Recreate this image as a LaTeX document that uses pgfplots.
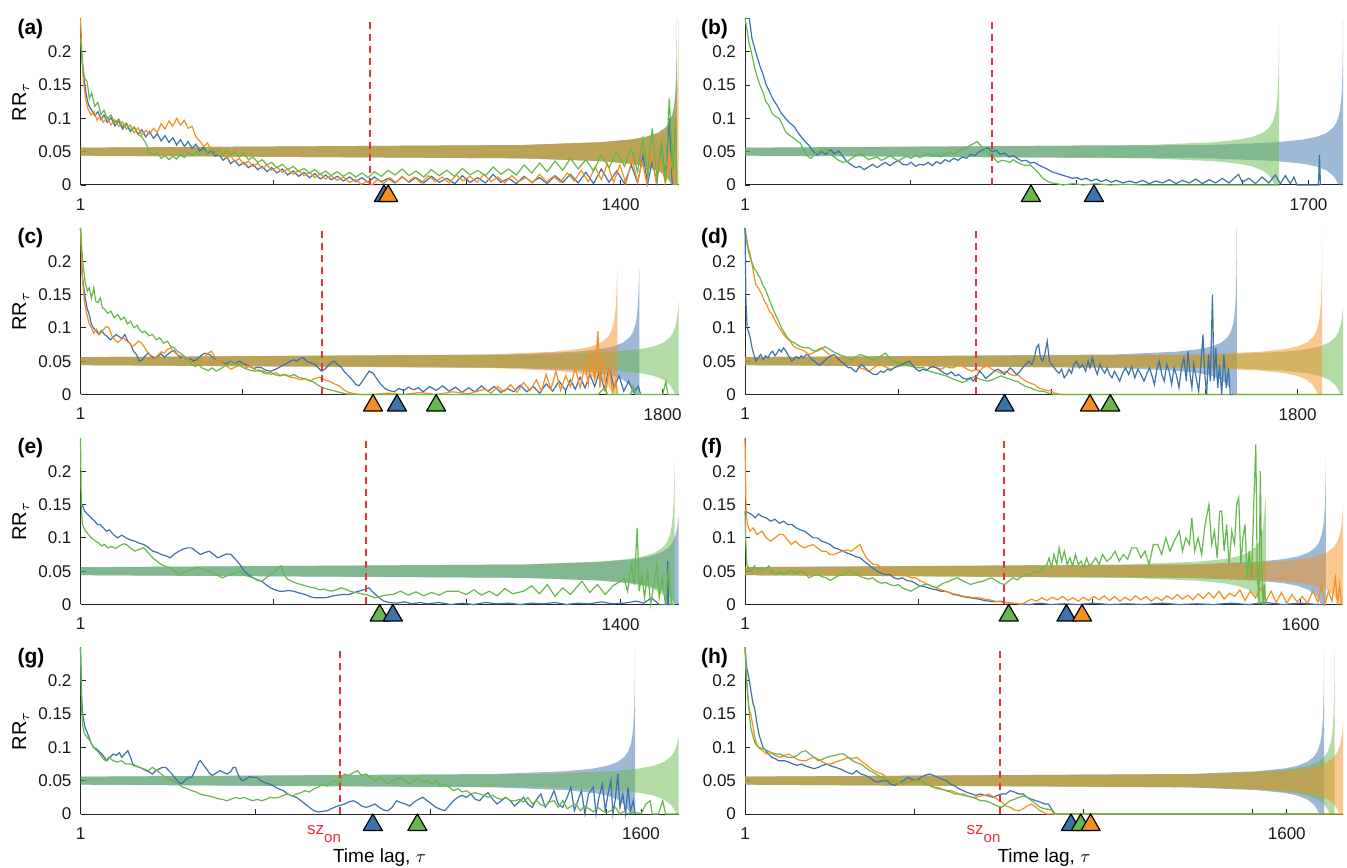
\documentclass[border=0pt]{standalone}
\usepackage{fontspec}
\setmainfont{Liberation Sans}
\usepackage{pgfplots}
\pgfplotsset{compat=1.18}
\definecolor{cb}{rgb}{0.24,0.45,0.67}
\definecolor{co}{rgb}{0.96,0.56,0.12}
\definecolor{cg}{rgb}{0.40,0.72,0.30}
\definecolor{cr}{rgb}{0.91,0.19,0.23}
\pgfplotsset{
  rr/.style={
    scale only axis, width=299pt, height=83.3pt, anchor=south west,
    xmin=1, ymin=0, ymax=0.25,
    axis x line*=bottom, axis y line*=left,
    axis line style={-, black!85, line width=0.5pt},
    ytick={0,0.05,0.1,0.15,0.2}, yticklabels={0,0.05,0.1,0.15,0.2},
    tick align=inside, major tick length=2.5pt,
    tick style={black!85, line width=0.4pt},
    every tick label/.append style={font=\fontsize{8.5}{10}\selectfont, text=black!90},
    xticklabel style={yshift=-3.3pt},
    yticklabel style={xshift=-1pt},
    clip=false,
    every axis y label/.style={at={(axis description cs:-0.1,0.5)}, rotate=90, anchor=center, font=\fontsize{10}{11}\selectfont},
    every axis x label/.style={at={(axis description cs:0.5,0)}, anchor=north, yshift=-14pt, font=\fontsize{9.5}{11}\selectfont},
  },
  lb/.style={cb, line width=0.6pt, mark=none},
  lo/.style={co, line width=0.6pt, mark=none},
  lg/.style={cg, line width=0.6pt, mark=none},
  bb/.style={draw=none, fill=cb, fill opacity=0.5, mark=none},
  bo/.style={draw=none, fill=co, fill opacity=0.5, mark=none},
  bg/.style={draw=none, fill=cg, fill opacity=0.5, mark=none},
  rl/.style={cr, line width=0.9pt, dash pattern=on 3.5pt off 2.5pt, mark=none},
  tri/.style={only marks, mark=triangle*, mark size=5.5pt, mark options={draw=black, fill=#1, line width=0.6pt, line join=round, solid}},
}
\newcommand{\plabel}[2]{\node[anchor=north west, inner sep=0pt, font=\bfseries\fontsize{10.5}{12}\selectfont] at (axis description cs:#1,1.0) {#2};}
\newcommand{\szon}[1]{\node[anchor=base east, inner sep=0pt, text=cr] at (axis cs:#1,0) [yshift=-10pt, xshift=0.5pt] {\fontsize{8.5}{10}\selectfont sz\raisebox{-4pt}{\fontsize{7.5}{9}\selectfont on}};}
\begin{document}
\begin{tikzpicture}
\useasboundingbox (0,0) rectangle (673.5pt,433.5pt);
% ---------------- (a)
\begin{axis}[rr, at={(40.25pt,341pt)}, xmax=1550, xtick={1,500,1000,1400}, xticklabels={1,,,1400}, ylabel={RR$_{\tau}$}]
\addplot[bb] coordinates {(1,.056)(1146,.06)(1346,.0641)(1426,.0682)(1466,.0722)(1496,.078)(1516,.0859)(1526,.0936)(1534,.1055)(1538,.1167)(1541,.1316)(1543,.15)(1544,.1655)(1545,.191)(1546,.25)(1546,0)(1532,0)(1526,.0064)(1516,.0141)(1496,.022)(1466,.0278)(1426,.0318)(1346,.0359)(1146,.04)(1,.044)} -- cycle;
\addplot[bg] coordinates {(1,.056)(1146,.06)(1346,.0641)(1426,.0682)(1466,.0722)(1496,.078)(1516,.0859)(1526,.0936)(1534,.1055)(1538,.1167)(1541,.1316)(1543,.15)(1544,.1655)(1545,.191)(1546,.25)(1546,0)(1532,0)(1526,.0064)(1516,.0141)(1496,.022)(1466,.0278)(1426,.0318)(1346,.0359)(1146,.04)(1,.044)} -- cycle;
\addplot[bo] coordinates {(1,.056)(1150,.06)(1350,.0641)(1430,.0682)(1470,.0722)(1500,.078)(1520,.0859)(1530,.0936)(1538,.1055)(1542,.1167)(1545,.1316)(1547,.15)(1548,.1655)(1549,.191)(1550,.25)(1550,0)(1536,0)(1530,.0064)(1520,.0141)(1500,.022)(1470,.0278)(1430,.0318)(1350,.0359)(1150,.04)(1,.044)} -- cycle;
\addplot[lb] coordinates {(1,.24)(5,.19)(10,.16)(16,.135)(22,.12)(30,.112)(38,.104)(46,.11)(54,.098)(62,.105)(70,.094)(80,.101)(90,.089)(100,.096)(110,.084)(120,.092)(130,.08)(140,.087)(150,.076)(160,.083)(170,.072)(180,.08)(190,.07)(200,.077)(210,.066)(220,.074)(230,.064)(240,.071)(250,.06)(260,.068)(270,.058)(280,.065)(290,.055)(300,.061)(310,.051)(320,.057)(330,.047)(340,.052)(350,.043)(360,.046)(370,.037)(380,.042)(390,.032)(400,.037)(412,.029)(424,.034)(436,.026)(448,.031)(460,.023)(472,.028)(484,.02)(496,.026)(510,.018)(524,.024)(538,.015)(552,.021)(566,.013)(580,.019)(594,.011)(608,.017)(622,.009)(636,.015)(650,.008)(666,.013)(682,.006)(698,.012)(714,.005)(730,.011)(746,.004)(762,.012)(780,.005)(798,.01)(816,.003)(834,.012)(852,.004)(870,.011)(890,.003)(910,.013)(930,.004)(950,.01)(970,.002)(990,.014)(1010,.004)(1030,.011)(1050,.003)(1070,.016)(1090,.004)(1110,.01)(1130,.002)(1150,.013)(1170,.004)(1190,.011)(1210,.002)(1230,.014)(1250,.004)(1270,.016)(1290,.003)(1310,.019)(1330,.002)(1350,.024)(1370,.004)(1390,.021)(1410,.002)(1428,.03)(1444,.003)(1458,.044)(1470,.002)(1482,.035)(1494,.003)(1506,.06)(1516,.005)(1526,.1)(1534,0)};
\addplot[lo] coordinates {(1,.25)(4,.2)(8,.16)(14,.13)(20,.115)(28,.105)(36,.11)(44,.097)(52,.104)(60,.094)(70,.102)(80,.09)(90,.098)(100,.088)(110,.095)(120,.084)(130,.09)(140,.078)(150,.086)(160,.075)(170,.082)(180,.077)(190,.085)(200,.079)(210,.092)(220,.084)(230,.096)(240,.088)(250,.1)(260,.09)(270,.097)(280,.085)(290,.088)(300,.072)(310,.066)(320,.058)(330,.063)(340,.052)(350,.056)(360,.045)(370,.049)(380,.04)(390,.044)(400,.035)(412,.04)(424,.031)(436,.036)(448,.028)(460,.033)(472,.025)(484,.03)(496,.022)(510,.027)(524,.019)(538,.024)(552,.016)(566,.022)(580,.014)(594,.019)(608,.011)(622,.017)(636,.009)(650,.014)(666,.007)(682,.012)(698,.004)(714,.008)(728,.001)(742,.005)(756,0)(770,.008)(786,.002)(802,.011)(818,.004)(834,.013)(850,.005)(866,.012)(884,.003)(902,.014)(920,.005)(938,.012)(956,.003)(974,.015)(992,.006)(1010,.013)(1028,.004)(1046,.016)(1064,.005)(1082,.012)(1100,.003)(1118,.014)(1136,.005)(1154,.011)(1172,.003)(1190,.016)(1208,.005)(1226,.013)(1244,.004)(1262,.018)(1280,.006)(1298,.022)(1316,.005)(1334,.027)(1350,.008)(1366,.032)(1382,.004)(1398,.03)(1414,.002)(1430,.04)(1444,.004)(1456,.035)(1468,.002)(1480,.05)(1492,.004)(1504,.038)(1516,.002)(1528,.045)(1540,0)};
\addplot[lg] coordinates {(1,.22)(6,.18)(12,.16)(18,.155)(24,.13)(30,.138)(38,.118)(46,.124)(54,.106)(62,.112)(70,.099)(80,.105)(90,.093)(100,.099)(110,.088)(120,.093)(130,.082)(140,.087)(150,.076)(160,.072)(170,.063)(180,.05)(190,.045)(200,.048)(210,.04)(220,.044)(230,.038)(240,.043)(250,.039)(260,.046)(270,.041)(280,.048)(290,.044)(300,.05)(310,.046)(320,.053)(330,.048)(340,.055)(350,.049)(360,.054)(370,.046)(380,.052)(390,.045)(400,.05)(412,.042)(424,.047)(436,.038)(448,.042)(460,.034)(472,.038)(484,.03)(496,.034)(510,.026)(524,.031)(538,.023)(552,.028)(566,.02)(580,.025)(594,.018)(608,.023)(622,.016)(636,.021)(650,.014)(666,.02)(682,.013)(698,.019)(714,.012)(730,.018)(746,.011)(762,.02)(780,.013)(798,.022)(816,.015)(834,.024)(852,.014)(870,.021)(890,.012)(910,.023)(930,.014)(950,.022)(970,.013)(990,.025)(1010,.015)(1030,.022)(1050,.014)(1070,.027)(1090,.016)(1110,.024)(1130,.015)(1150,.03)(1170,.018)(1190,.033)(1210,.02)(1230,.036)(1250,.022)(1270,.04)(1290,.024)(1310,.038)(1330,.021)(1350,.045)(1370,.026)(1390,.05)(1410,.028)(1428,.055)(1444,.02)(1458,.07)(1470,.015)(1482,.085)(1494,.01)(1506,.06)(1516,.005)(1526,.13)(1536,.02)(1542,.1)(1546,0)};
\addplot[rl] coordinates {(751,0)(751,0.25)};
\addplot[tri=cb] coordinates {(787,-0.0165)};
\addplot[tri=co] coordinates {(798,-0.0165)};
\plabel{-0.106}{(a)}
\end{axis}
% ---------------- (b)
\begin{axis}[rr, at={(372.5pt,341pt)}, xmax=1804, xtick={1,500,1000,1500,1700}, xticklabels={1,,,,1700}]
\addplot[bb] coordinates {(1,.056)(1404,.06)(1604,.0641)(1684,.0682)(1724,.0722)(1754,.078)(1774,.0859)(1784,.0936)(1792,.1055)(1796,.1167)(1799,.1316)(1801,.15)(1802,.1655)(1803,.191)(1804,.25)(1804,0)(1790,0)(1784,.0064)(1774,.0141)(1754,.022)(1724,.0278)(1684,.0318)(1604,.0359)(1404,.04)(1,.044)} -- cycle;
\addplot[bg] coordinates {(1,.056)(1211,.06)(1411,.0641)(1491,.0682)(1531,.0722)(1561,.078)(1581,.0859)(1591,.0936)(1599,.1055)(1603,.1167)(1606,.1316)(1608,.15)(1609,.1655)(1610,.191)(1611,.24)(1611,0)(1597,0)(1591,.0064)(1581,.0141)(1561,.022)(1531,.0278)(1491,.0318)(1411,.0359)(1211,.04)(1,.044)} -- cycle;
\addplot[lb] coordinates {(1,.25)(14,.25)(22,.22)(33,.2)(45,.18)(56,.165)(65,.15)(75,.14)(86,.128)(97,.12)(110,.108)(123,.1)(136,.093)(149,.088)(160,.079)(174,.07)(184,.064)(193,.06)(206,.051)(219,.045)(232,.05)(245,.046)(258,.053)(271,.047)(284,.051)(296,.043)(309,.035)(322,.03)(335,.026)(347,.028)(360,.023)(373,.027)(386,.031)(399,.026)(411,.03)(424,.034)(437,.029)(450,.033)(463,.037)(476,.031)(489,.03)(502,.034)(515,.028)(528,.031)(540,.03)(553,.034)(566,.029)(578,.035)(591,.032)(604,.038)(617,.035)(630,.04)(643,.037)(656,.042)(669,.04)(681,.046)(694,.044)(707,.05)(720,.053)(733,.056)(746,.05)(758,.052)(771,.046)(784,.048)(797,.042)(810,.044)(822,.04)(835,.036)(848,.037)(861,.033)(874,.034)(886,.03)(899,.027)(912,.024)(925,.02)(938,.018)(950,.016)(963,.014)(976,.012)(989,.01)(1002,.011)(1015,.008)(1030,.01)(1045,.006)(1060,.009)(1075,.005)(1090,.008)(1105,.004)(1120,.007)(1140,.003)(1160,.006)(1180,.003)(1200,.007)(1220,.002)(1240,.006)(1260,.003)(1280,.008)(1300,.002)(1320,.007)(1340,.003)(1360,.009)(1380,.002)(1400,.008)(1420,.003)(1440,.01)(1460,.003)(1480,.012)(1489,.016)(1500,.004)(1520,.01)(1540,.002)(1560,.012)(1580,.003)(1600,.015)(1615,.002)(1630,.014)(1645,.002)(1656,.012)(1665,0)(1730,0)(1733,.045)(1736,0)};
\addplot[lg] coordinates {(1,.25)(8,.23)(14,.21)(20,.2)(28,.18)(36,.165)(46,.15)(56,.138)(64,.125)(72,.12)(82,.108)(92,.103)(104,.1)(114,.09)(123,.08)(134,.075)(149,.07)(160,.065)(168,.063)(175,.055)(181,.05)(190,.043)(200,.04)(210,.046)(220,.05)(232,.052)(245,.055)(258,.047)(270,.042)(283,.037)(296,.034)(309,.035)(322,.04)(335,.044)(348,.047)(360,.043)(373,.038)(386,.04)(399,.042)(412,.037)(425,.04)(438,.044)(450,.04)(463,.036)(476,.04)(489,.043)(502,.04)(515,.045)(528,.041)(540,.044)(553,.047)(566,.043)(578,.046)(591,.042)(604,.047)(617,.05)(630,.046)(643,.05)(656,.054)(669,.056)(681,.06)(690,.062)(700,.065)(710,.06)(720,.056)(730,.05)(740,.045)(752,.04)(763,.034)(775,.037)(787,.036)(799,.034)(810,.038)(822,.034)(835,.031)(848,.029)(861,.03)(874,.024)(886,.018)(899,.01)(912,.006)(925,.003)(940,.002)(960,0)(990,.002)(1020,0)(1060,.002)(1100,0)(1150,.001)(1200,0)(1611,0)};
\addplot[rl] coordinates {(745,0)(745,0.25)};
\addplot[tri=cg] coordinates {(863,-0.0165)};
\addplot[tri=cb] coordinates {(1053,-0.0165)};
\plabel{-0.074}{(b)}
\end{axis}
% ---------------- (c)
\begin{axis}[rr, at={(40.25pt,236.25pt)}, xmax=1849, xtick={1,500,1000,1500,1800}, xticklabels={1,,,,1800}, ylabel={RR$_{\tau}$}]
\addplot[bb] coordinates {(1,.056)(1328,.06)(1528,.0641)(1608,.0682)(1648,.0722)(1678,.078)(1698,.0859)(1708,.0936)(1716,.1055)(1720,.1167)(1723,.1316)(1725,.15)(1726,.1655)(1728,.19)(1728,0)(1714,0)(1708,.0064)(1698,.0141)(1678,.022)(1648,.0278)(1608,.0318)(1528,.0359)(1328,.04)(1,.044)} -- cycle;
\addplot[bg] coordinates {(1,.056)(1453,.06)(1653,.0641)(1733,.0682)(1773,.0722)(1803,.078)(1823,.0859)(1833,.0936)(1841,.1055)(1845,.1167)(1848,.1316)(1849,.1394)(1849,0)(1839,0)(1833,.0064)(1823,.0141)(1803,.022)(1773,.0278)(1733,.0318)(1653,.0359)(1453,.04)(1,.044)} -- cycle;
\addplot[bo] coordinates {(1,.056)(1260,.06)(1460,.0641)(1540,.0682)(1580,.0722)(1610,.078)(1630,.0859)(1640,.0936)(1648,.1055)(1652,.1167)(1655,.1316)(1657,.15)(1658,.1655)(1660,.19)(1660,0)(1646,0)(1640,.0064)(1630,.0141)(1610,.022)(1580,.0278)(1540,.0318)(1460,.0359)(1260,.04)(1,.044)} -- cycle;
\addplot[lb] coordinates {(1,.25)(6,.18)(14,.15)(21,.13)(28,.12)(35,.105)(41,.1)(50,.095)(58,.09)(66,.096)(75,.09)(84,.087)(93,.082)(102,.086)(111,.09)(120,.087)(129,.084)(138,.09)(147,.08)(156,.075)(165,.065)(174,.06)(183,.05)(192,.052)(201,.058)(210,.062)(219,.058)(230,.054)(240,.057)(250,.061)(260,.056)(270,.06)(280,.064)(291,.066)(300,.06)(310,.055)(320,.058)(330,.052)(340,.054)(350,.05)(359,.052)(370,.057)(385,.062)(399,.06)(410,.056)(420,.053)(435,.049)(450,.046)(465,.05)(480,.047)(493,.05)(505,.046)(520,.043)(535,.039)(550,.041)(561,.04)(575,.036)(590,.035)(605,.038)(620,.042)(635,.046)(650,.05)(660,.052)(669,.05)(680,.054)(690,.055)(700,.05)(715,.047)(726,.045)(736,.04)(746,.035)(756,.038)(766,.043)(777,.048)(785,.05)(795,.045)(805,.042)(815,.035)(825,.03)(835,.025)(844,.02)(852,.015)(862,.013)(872,.02)(882,.027)(893,.035)(905,.032)(915,.025)(925,.018)(935,.012)(945,.008)(955,.006)(970,.004)(985,.009)(1000,.006)(1015,.011)(1030,.007)(1045,.01)(1060,.004)(1080,.012)(1100,.006)(1120,.013)(1140,.005)(1160,.011)(1180,.003)(1200,.01)(1220,.004)(1240,.013)(1260,.005)(1280,.012)(1300,.003)(1320,.009)(1340,.004)(1360,.014)(1380,.004)(1400,.012)(1420,.002)(1440,.016)(1460,.005)(1480,.02)(1500,.006)(1515,.022)(1530,.008)(1545,.026)(1560,.01)(1575,.03)(1590,.012)(1605,.035)(1620,.008)(1635,.04)(1650,.01)(1665,.028)(1680,.005)(1695,.02)(1710,.003)(1725,.012)(1732,0)};
\addplot[lo] coordinates {(1,.25)(6,.18)(13,.14)(21,.12)(28,.105)(35,.1)(42,.092)(50,.098)(60,.09)(70,.096)(80,.102)(89,.1)(98,.088)(107,.082)(116,.078)(125,.082)(134,.085)(143,.08)(152,.078)(161,.072)(170,.075)(179,.08)(188,.078)(197,.072)(206,.065)(215,.06)(224,.05)(233,.055)(242,.06)(251,.064)(260,.062)(270,.068)(280,.07)(290,.064)(300,.06)(310,.058)(320,.056)(330,.054)(340,.05)(350,.047)(360,.045)(372,.048)(384,.055)(394,.062)(406,.065)(418,.055)(430,.05)(442,.046)(454,.042)(466,.038)(478,.041)(490,.043)(502,.045)(514,.04)(526,.043)(538,.038)(550,.035)(561,.036)(575,.033)(590,.03)(605,.033)(620,.028)(635,.03)(650,.026)(665,.025)(680,.022)(695,.024)(710,.02)(725,.024)(740,.026)(755,.022)(770,.02)(785,.016)(800,.013)(815,.007)(830,.003)(850,.001)(871,0)(900,0)(950,.002)(1000,0)(1050,.003)(1100,0)(1150,.004)(1200,.001)(1250,.008)(1270,.002)(1290,.012)(1310,.004)(1330,.015)(1350,.003)(1370,.018)(1390,.006)(1410,.022)(1425,.005)(1440,.03)(1455,.008)(1470,.035)(1485,.006)(1500,.028)(1515,.012)(1530,.04)(1545,.01)(1560,.045)(1570,.015)(1580,.06)(1590,.02)(1600,.095)(1606,.01)(1615,.055)(1625,.005)(1635,.04)(1645,.003)(1655,.02)(1660,0)};
\addplot[lg] coordinates {(1,.25)(5,.22)(8,.2)(15,.17)(22,.155)(28,.16)(35,.145)(42,.16)(48,.14)(55,.138)(62,.145)(69,.13)(75,.128)(85,.122)(95,.125)(105,.115)(116,.12)(126,.112)(136,.116)(146,.106)(156,.11)(166,.1)(176,.104)(183,.097)(192,.093)(201,.095)(212,.088)(224,.09)(235,.082)(246,.085)(258,.077)(270,.08)(280,.072)(291,.07)(300,.065)(310,.062)(320,.058)(332,.052)(345,.045)(356,.042)(366,.045)(376,.04)(386,.038)(396,.036)(408,.04)(420,.035)(432,.038)(444,.042)(456,.045)(468,.05)(480,.048)(492,.044)(504,.04)(516,.038)(528,.036)(540,.035)(552,.037)(564,.033)(576,.031)(588,.034)(600,.03)(615,.028)(630,.03)(645,.027)(660,.03)(675,.026)(690,.024)(705,.022)(715,.02)(723,.018)(735,.014)(750,.01)(765,.008)(780,.006)(795,.004)(804,.003)(820,.001)(850,0)(1600,0)(1620,.01)(1630,0)(1700,0)(1710,.012)(1716,0)(1800,0)(1810,.02)(1816,0)(1849,0)};
\addplot[rl] coordinates {(747,0)(747,0.25)};
\addplot[tri=co] coordinates {(905,-0.0165)};
\addplot[tri=cb] coordinates {(979,-0.0165)};
\addplot[tri=cg] coordinates {(1100,-0.0165)};
\plabel{-0.106}{(c)}
\end{axis}
% ---------------- (d)
\begin{axis}[rr, at={(372.5pt,236.25pt)}, xmax=1948, xtick={1,500,1000,1500,1800}, xticklabels={1,,,,1800}]
\addplot[bb] coordinates {(1,.056)(1202,.06)(1402,.0641)(1482,.0682)(1522,.0722)(1552,.078)(1572,.0859)(1582,.0936)(1590,.1055)(1594,.1167)(1597,.1316)(1599,.15)(1600,.1655)(1601,.191)(1602,.25)(1602,0)(1588,0)(1582,.0064)(1572,.0141)(1552,.022)(1522,.0278)(1482,.0318)(1402,.0359)(1202,.04)(1,.044)} -- cycle;
\addplot[bg] coordinates {(1,.056)(1553,.06)(1753,.0641)(1833,.0682)(1873,.0722)(1903,.078)(1923,.0859)(1933,.0936)(1941,.1055)(1945,.1167)(1948,.1316)(1948,0)(1939,0)(1933,.0064)(1923,.0141)(1903,.022)(1873,.0278)(1833,.0318)(1753,.0359)(1553,.04)(1,.044)} -- cycle;
\addplot[bo] coordinates {(1,.056)(1480,.06)(1680,.0641)(1760,.0682)(1800,.0722)(1830,.078)(1850,.0859)(1860,.0936)(1868,.1055)(1872,.1167)(1875,.1316)(1877,.15)(1878,.1655)(1879,.191)(1880,.25)(1880,0)(1866,0)(1860,.0064)(1850,.0141)(1830,.022)(1800,.0278)(1760,.0318)(1680,.0359)(1480,.04)(1,.044)} -- cycle;
\addplot[lo] coordinates {(1,.25)(6,.235)(12,.22)(18,.21)(22,.2)(28,.185)(36,.165)(44,.16)(50,.155)(56,.15)(64,.14)(72,.135)(80,.125)(90,.12)(100,.11)(112,.1)(124,.092)(136,.085)(148,.08)(160,.072)(167,.07)(180,.068)(195,.065)(210,.06)(225,.063)(240,.068)(250,.07)(262,.065)(275,.06)(290,.055)(305,.05)(320,.054)(335,.056)(350,.052)(362,.045)(375,.04)(390,.038)(405,.035)(420,.04)(435,.045)(450,.043)(465,.04)(478,.038)(486,.04)(500,.044)(515,.05)(528,.055)(540,.05)(555,.047)(569,.045)(582,.05)(595,.046)(610,.042)(625,.04)(640,.038)(655,.042)(670,.04)(680,.04)(695,.045)(710,.042)(725,.038)(740,.035)(755,.038)(763,.035)(775,.04)(790,.043)(805,.038)(820,.035)(835,.032)(850,.035)(865,.03)(880,.028)(888,.03)(900,.025)(915,.02)(930,.017)(943,.015)(956,.01)(970,.008)(985,.006)(999,.005)(1010,.002)(1030,0)(1879,0)};
\addplot[lg] coordinates {(1,.25)(6,.23)(12,.215)(18,.205)(22,.2)(30,.19)(38,.185)(43,.18)(50,.175)(58,.165)(65,.16)(74,.15)(82,.14)(91,.13)(100,.12)(110,.11)(120,.1)(130,.092)(140,.085)(150,.08)(160,.078)(170,.075)(180,.072)(195,.07)(209,.07)(222,.066)(235,.065)(248,.068)(262,.072)(275,.068)(290,.064)(306,.06)(320,.058)(334,.055)(347,.052)(360,.056)(375,.06)(390,.058)(404,.055)(418,.052)(431,.055)(445,.058)(458,.062)(470,.056)(485,.05)(500,.048)(515,.046)(530,.044)(545,.042)(560,.04)(583,.04)(595,.036)(610,.034)(625,.032)(640,.03)(655,.028)(670,.025)(685,.022)(698,.02)(708,.018)(720,.02)(735,.024)(750,.027)(765,.023)(780,.021)(791,.02)(805,.022)(820,.025)(835,.028)(850,.025)(865,.023)(880,.02)(888,.02)(900,.016)(915,.012)(930,.01)(945,.007)(960,.005)(971,.005)(990,.002)(1010,0)(1948,0)};
\addplot[lb] coordinates {(1,.25)(4,.14)(8,.1)(12,.095)(18,.085)(24,.07)(30,.06)(36,.05)(44,.055)(52,.06)(60,.052)(68,.058)(76,.055)(84,.062)(91,.065)(98,.058)(105,.062)(112,.068)(119,.064)(126,.07)(133,.066)(140,.06)(147,.055)(153,.05)(160,.053)(168,.057)(176,.054)(184,.058)(192,.055)(200,.06)(209,.058)(218,.053)(227,.05)(236,.046)(245,.044)(254,.048)(263,.052)(272,.056)(282,.058)(292,.06)(302,.055)(312,.05)(322,.047)(332,.042)(340,.04)(347,.04)(355,.036)(363,.034)(371,.04)(380,.045)(390,.041)(400,.036)(410,.033)(420,.03)(431,.03)(442,.035)(453,.033)(464,.038)(475,.036)(486,.04)(497,.042)(508,.044)(514,.045)(525,.048)(536,.05)(547,.044)(558,.038)(569,.035)(580,.038)(591,.036)(602,.04)(613,.042)(625,.04)(637,.036)(649,.032)(661,.03)(673,.034)(685,.028)(697,.03)(709,.025)(721,.023)(735,.025)(745,.02)(755,.028)(765,.035)(775,.03)(785,.024)(795,.028)(805,.032)(815,.036)(825,.038)(835,.035)(845,.03)(855,.035)(865,.04)(875,.035)(885,.03)(895,.034)(905,.04)(915,.045)(925,.05)(935,.045)(943,.055)(950,.07)(957,.075)(963,.055)(970,.05)(977,.06)(985,.08)(992,.05)(1000,.045)(1008,.04)(1016,.035)(1024,.032)(1032,.038)(1040,.025)(1048,.03)(1056,.038)(1064,.032)(1072,.045)(1080,.05)(1090,.04)(1100,.045)(1110,.035)(1118,.05)(1124,.04)(1132,.055)(1140,.04)(1148,.03)(1156,.045)(1164,.038)(1172,.032)(1180,.04)(1188,.03)(1196,.025)(1204,.035)(1212,.028)(1221,.02)(1230,.032)(1240,.04)(1250,.03)(1260,.042)(1270,.025)(1280,.038)(1290,.03)(1300,.02)(1310,.032)(1318,.04)(1326,.028)(1334,.015)(1342,.038)(1350,.05)(1358,.03)(1366,.02)(1374,.045)(1382,.035)(1390,.015)(1398,.04)(1406,.028)(1414,.01)(1422,.04)(1430,.055)(1438,.02)(1443,.065)(1450,.03)(1456,.01)(1462,.045)(1470,.025)(1478,.005)(1486,.05)(1492,.09)(1498,.03)(1504,0)(1510,.06)(1516,.02)(1523,.15)(1528,.02)(1534,.07)(1540,.01)(1546,.045)(1553,0)(1560,.06)(1568,.01)(1575,.04)(1581,0)(1590,0)};
\addplot[rl] coordinates {(752,0)(752,0.25)};
\addplot[tri=cb] coordinates {(846,-0.0165)};
\addplot[tri=co] coordinates {(1124,-0.0165)};
\addplot[tri=cg] coordinates {(1190,-0.0165)};
\plabel{-0.074}{(d)}
\end{axis}
% ---------------- (e)
\begin{axis}[rr, at={(40.25pt,131.25pt)}, xmax=1550, xtick={1,500,1000,1400}, xticklabels={1,,,1400}, ylabel={RR$_{\tau}$}]
\addplot[bb] coordinates {(1,.056)(1155,.06)(1355,.0641)(1435,.0682)(1475,.0722)(1505,.078)(1525,.0859)(1535,.0936)(1543,.1055)(1547,.1167)(1550,.1316)(1550,0)(1541,0)(1535,.0064)(1525,.0141)(1505,.022)(1475,.0278)(1435,.0318)(1355,.0359)(1155,.04)(1,.044)} -- cycle;
\addplot[bg] coordinates {(1,.056)(1140,.06)(1340,.0641)(1420,.0682)(1460,.0722)(1490,.078)(1510,.0859)(1520,.0936)(1528,.1055)(1532,.1167)(1535,.1316)(1537,.15)(1538,.1655)(1539,.191)(1540,.22)(1540,0)(1526,0)(1520,.0064)(1510,.0141)(1490,.022)(1460,.0278)(1420,.0318)(1340,.0359)(1140,.04)(1,.044)} -- cycle;
\addplot[lb] coordinates {(1,.15)(5,.15)(12,.14)(20,.135)(29,.13)(38,.125)(45,.12)(52,.12)(60,.115)(68,.11)(76,.112)(86,.105)(97,.1)(108,.104)(119,.1)(130,.097)(142,.095)(153,.092)(165,.09)(176,.086)(188,.08)(200,.078)(210,.075)(222,.073)(233,.07)(245,.076)(256,.08)(267,.083)(278,.085)(289,.085)(300,.08)(312,.075)(323,.078)(335,.08)(346,.075)(357,.07)(368,.073)(380,.076)(391,.075)(402,.068)(414,.06)(425,.05)(436,.045)(448,.04)(459,.037)(470,.035)(481,.03)(493,.025)(505,.022)(516,.02)(527,.02)(540,.021)(552,.02)(564,.018)(576,.016)(583,.015)(595,.012)(607,.01)(619,.01)(631,.01)(643,.011)(655,.013)(667,.014)(679,.015)(691,.015)(697,.015)(710,.018)(722,.02)(734,.022)(748,.025)(756,.02)(765,.015)(775,.01)(787,.005)(800,.003)(820,.002)(840,.004)(860,.001)(880,.003)(900,.001)(930,.003)(960,0)(990,.002)(1020,0)(1050,.003)(1080,.001)(1110,.002)(1140,0)(1170,.002)(1200,.001)(1230,.003)(1260,0)(1290,.002)(1320,.001)(1350,.004)(1380,.001)(1410,.002)(1440,.005)(1460,.002)(1480,.01)(1500,0)(1520,0)(1522,.065)(1524,0)(1540,0)};
\addplot[lg] coordinates {(1,.25)(3,.15)(6,.12)(14,.11)(22,.105)(29,.1)(38,.096)(48,.092)(56,.088)(63,.09)(72,.085)(82,.087)(92,.084)(102,.088)(112,.091)(120,.09)(130,.085)(142,.08)(153,.083)(165,.085)(176,.078)(188,.07)(199,.065)(210,.06)(222,.057)(233,.055)(245,.05)(256,.045)(267,.048)(278,.05)(289,.053)(300,.055)(312,.055)(323,.052)(335,.05)(346,.047)(358,.043)(369,.04)(380,.043)(391,.045)(403,.048)(414,.05)(425,.045)(437,.042)(448,.04)(460,.036)(471,.035)(482,.04)(493,.045)(505,.05)(514,.055)(521,.058)(528,.045)(537,.038)(548,.035)(560,.032)(572,.03)(584,.028)(596,.026)(608,.025)(620,.022)(632,.023)(643,.021)(651,.02)(663,.022)(675,.025)(687,.023)(699,.02)(711,.018)(723,.017)(735,.015)(742,.015)(754,.012)(765,.01)(777,.012)(790,.014)(810,.015)(830,.02)(850,.014)(870,.019)(890,.013)(910,.018)(930,.014)(950,.02)(979,.02)(1000,.015)(1020,.022)(1040,.014)(1060,.02)(1080,.013)(1100,.024)(1120,.016)(1149,.02)(1170,.028)(1190,.016)(1210,.03)(1230,.012)(1250,.025)(1270,.015)(1285,.025)(1300,.035)(1320,.018)(1340,.03)(1360,.015)(1380,.028)(1400,.035)(1409,.04)(1418,.02)(1428,.06)(1435,.03)(1443,.115)(1448,.02)(1455,.045)(1462,.01)(1470,.05)(1478,0)(1486,.03)(1494,.06)(1500,.01)(1508,.04)(1516,0)(1524,.055)(1532,0)(1540,0)};
\addplot[rl] coordinates {(740,0)(740,0.25)};
\addplot[tri=cg] coordinates {(776,-0.0165)};
\addplot[tri=cb] coordinates {(810,-0.0165)};
\plabel{-0.106}{(e)}
\end{axis}
% ---------------- (f)
\begin{axis}[rr, at={(372.5pt,131.25pt)}, xmax=1722, xtick={1,500,1000,1500,1600}, xticklabels={1,,,,1600}]
\addplot[bb] coordinates {(1,.056)(1273,.06)(1473,.0641)(1553,.0682)(1593,.0722)(1623,.078)(1643,.0859)(1653,.0936)(1661,.1055)(1665,.1167)(1668,.1316)(1670,.15)(1671,.1655)(1672,.191)(1673,.22)(1673,0)(1659,0)(1653,.0064)(1643,.0141)(1623,.022)(1593,.0278)(1553,.0318)(1473,.0359)(1273,.04)(1,.044)} -- cycle;
\addplot[bg] coordinates {(1,.056)(1100,.06)(1300,.0641)(1380,.0682)(1420,.0722)(1450,.078)(1470,.0859)(1480,.0936)(1488,.1055)(1492,.1167)(1495,.1316)(1497,.15)(1500,.16)(1500,0)(1486,0)(1480,.0064)(1470,.0141)(1450,.022)(1420,.0278)(1380,.0318)(1300,.0359)(1100,.04)(1,.044)} -- cycle;
\addplot[bo] coordinates {(1,.056)(1325,.06)(1525,.0641)(1605,.0682)(1645,.0722)(1675,.078)(1695,.0859)(1705,.0936)(1713,.1055)(1717,.1167)(1720,.1316)(1722,.15)(1722,0)(1711,0)(1705,.0064)(1695,.0141)(1675,.022)(1645,.0278)(1605,.0318)(1525,.0359)(1325,.04)(1,.044)} -- cycle;
\addplot[lb] coordinates {(1,.14)(10,.138)(20,.135)(30,.13)(40,.136)(50,.132)(62,.13)(75,.125)(87,.128)(100,.122)(112,.125)(124,.12)(136,.12)(148,.115)(160,.112)(172,.11)(185,.105)(197,.1)(209,.1)(222,.095)(234,.093)(246,.09)(258,.085)(270,.083)(283,.08)(295,.077)(307,.075)(319,.072)(332,.07)(344,.065)(356,.06)(368,.055)(381,.05)(393,.047)(405,.045)(418,.045)(430,.04)(442,.038)(454,.04)(467,.036)(479,.035)(491,.032)(503,.028)(516,.027)(528,.025)(540,.023)(552,.022)(565,.02)(577,.02)(589,.018)(601,.015)(614,.014)(626,.012)(638,.011)(650,.01)(662,.009)(675,.008)(690,.006)(705,.005)(720,.004)(735,.005)(750,.003)(765,.002)(790,.001)(820,0)(850,.002)(880,0)(920,.001)(960,0)(1000,.002)(1050,0)(1100,.001)(1150,0)(1200,.002)(1250,0)(1300,.001)(1350,0)(1400,.002)(1450,0)(1500,.003)(1550,0)(1600,.002)(1650,0)(1673,0)};
\addplot[lo] coordinates {(1,.25)(4,.14)(8,.12)(15,.11)(25,.115)(35,.105)(50,.11)(62,.1)(75,.095)(87,.1)(100,.105)(111,.105)(122,.098)(134,.09)(146,.095)(160,.088)(172,.085)(185,.088)(197,.09)(209,.085)(222,.08)(234,.08)(246,.075)(258,.075)(270,.078)(283,.08)(295,.082)(307,.08)(319,.085)(332,.09)(340,.08)(350,.07)(360,.065)(370,.06)(381,.06)(393,.055)(405,.052)(418,.05)(430,.047)(442,.045)(454,.046)(467,.043)(479,.04)(491,.04)(503,.036)(516,.033)(528,.03)(540,.027)(552,.025)(565,.022)(577,.02)(589,.018)(601,.016)(614,.015)(626,.013)(638,.012)(650,.011)(662,.01)(675,.01)(690,.008)(705,.007)(720,.005)(735,.004)(750,.003)(765,.002)(780,.002)(797,0)(810,.004)(825,.008)(840,.005)(855,.01)(870,.006)(885,.011)(900,.007)(915,.012)(930,.006)(945,.01)(960,.005)(975,.011)(990,.006)(1005,.012)(1020,.007)(1035,.013)(1050,.006)(1065,.012)(1080,.005)(1095,.011)(1110,.006)(1125,.013)(1140,.007)(1155,.012)(1170,.005)(1185,.011)(1200,.006)(1215,.013)(1230,.008)(1245,.015)(1260,.008)(1275,.014)(1290,.007)(1305,.016)(1320,.009)(1335,.018)(1350,.01)(1365,.02)(1380,.008)(1395,.017)(1410,.012)(1425,.022)(1440,.006)(1455,.02)(1470,.01)(1485,.025)(1500,.005)(1515,.02)(1530,.003)(1545,.018)(1560,.002)(1575,.015)(1590,.004)(1605,.012)(1620,.002)(1635,.02)(1650,.003)(1660,.03)(1670,0)(1680,.02)(1690,.005)(1700,.04)(1706,0)(1712,.03)(1718,0)(1722,0)};
\addplot[lg] coordinates {(1,.14)(3,.1)(6,.06)(12,.055)(20,.05)(28,.058)(36,.052)(44,.055)(50,.05)(60,.053)(70,.058)(80,.048)(90,.045)(100,.05)(111,.045)(122,.048)(134,.052)(146,.046)(160,.05)(172,.048)(185,.04)(197,.043)(209,.045)(222,.042)(234,.04)(246,.036)(258,.04)(270,.043)(283,.045)(295,.048)(307,.05)(319,.046)(332,.042)(344,.04)(356,.038)(368,.04)(381,.035)(393,.032)(405,.033)(418,.03)(430,.028)(442,.03)(454,.025)(467,.022)(479,.02)(491,.024)(503,.027)(516,.03)(528,.03)(540,.027)(552,.025)(565,.03)(577,.033)(589,.035)(601,.038)(613,.04)(625,.036)(638,.033)(650,.03)(662,.032)(675,.034)(687,.035)(699,.038)(711,.04)(723,.036)(735,.032)(748,.03)(760,.035)(772,.04)(784,.037)(797,.042)(809,.045)(822,.045)(834,.05)(846,.048)(858,.055)(870,.06)(876,.07)(883,.055)(890,.075)(898,.06)(905,.085)(912,.065)(920,.08)(928,.06)(936,.07)(944,.058)(952,.075)(960,.06)(968,.065)(976,.055)(984,.07)(992,.058)(1000,.062)(1010,.07)(1020,.06)(1030,.075)(1042,.065)(1054,.07)(1066,.08)(1078,.065)(1090,.075)(1102,.068)(1114,.085)(1128,.085)(1140,.07)(1152,.08)(1164,.06)(1176,.09)(1189,.09)(1200,.075)(1212,.1)(1224,.08)(1236,.095)(1251,.11)(1260,.08)(1270,.1)(1280,.09)(1287,.13)(1295,.08)(1305,.1)(1315,.075)(1325,.12)(1336,.15)(1344,.09)(1352,.11)(1360,.07)(1367,.14)(1373,.14)(1380,.08)(1387,.12)(1394,.06)(1402,.11)(1410,.09)(1416,.15)(1422,.16)(1428,.06)(1434,.1)(1440,.12)(1446,.04)(1452,.08)(1459,.04)(1465,.15)(1471,.24)(1475,.05)(1480,0)(1484,.2)(1488,.05)(1492,0)(1495,.03)(1500,0)};
\addplot[rl] coordinates {(746,0)(746,0.25)};
\addplot[tri=cg] coordinates {(760,-0.0165)};
\addplot[tri=cb] coordinates {(926,-0.0165)};
\addplot[tri=co] coordinates {(971,-0.0165)};
\plabel{-0.074}{(f)}
\end{axis}
% ---------------- (g)
\begin{axis}[rr, at={(40.25pt,26.5pt)}, xmax=1707, xtick={1,500,1000,1500,1600}, xticklabels={1,,,,1600}, ylabel={RR$_{\tau}$}, xlabel={Time lag, $\tau$}]
\addplot[bb] coordinates {(1,.056)(1183,.06)(1383,.0641)(1463,.0682)(1503,.0722)(1533,.078)(1553,.0859)(1563,.0936)(1571,.1055)(1575,.1167)(1578,.1316)(1580,.15)(1581,.1655)(1582,.191)(1583,.25)(1583,0)(1569,0)(1563,.0064)(1553,.0141)(1533,.022)(1503,.0278)(1463,.0318)(1383,.0359)(1183,.04)(1,.044)} -- cycle;
\addplot[bg] coordinates {(1,.056)(1315,.06)(1515,.0641)(1595,.0682)(1635,.0722)(1665,.078)(1685,.0859)(1695,.0936)(1703,.1055)(1707,.1167)(1707,0)(1701,0)(1695,.0064)(1685,.0141)(1665,.022)(1635,.0278)(1595,.0318)(1515,.0359)(1315,.04)(1,.044)} -- cycle;
\addplot[lb] coordinates {(1,.25)(4,.18)(7,.15)(14,.13)(22,.12)(30,.108)(38,.1)(46,.098)(54,.094)(62,.09)(69,.085)(76,.08)(85,.085)(94,.09)(103,.088)(112,.092)(119,.085)(127,.09)(136,.095)(144,.085)(150,.075)(160,.072)(169,.07)(178,.068)(188,.065)(197,.063)(206,.06)(216,.065)(226,.068)(235,.07)(244,.07)(253,.065)(262,.06)(269,.055)(278,.05)(287,.045)(295,.048)(303,.052)(311,.055)(318,.055)(325,.062)(332,.07)(338,.078)(343,.08)(350,.075)(360,.068)(368,.062)(376,.058)(384,.06)(392,.063)(400,.065)(410,.062)(420,.06)(430,.064)(437,.07)(443,.07)(450,.06)(458,.052)(466,.05)(474,.053)(483,.056)(492,.055)(505,.055)(515,.05)(527,.047)(540,.045)(552,.042)(565,.038)(580,.035)(592,.03)(605,.027)(617,.025)(630,.02)(642,.015)(654,.01)(667,.005)(680,.003)(692,.004)(705,.005)(717,.008)(729,.011)(742,.013)(754,.015)(766,.018)(779,.02)(791,.017)(803,.012)(816,.01)(828,.012)(841,.015)(853,.01)(866,.006)(878,.005)(890,.01)(903,.02)(915,.017)(928,.015)(940,.012)(953,.018)(965,.022)(978,.025)(990,.02)(1003,.015)(1015,.01)(1028,.007)(1040,.005)(1052,.012)(1065,.02)(1077,.025)(1090,.028)(1102,.025)(1115,.03)(1127,.022)(1140,.02)(1152,.028)(1164,.032)(1177,.022)(1189,.015)(1202,.02)(1214,.025)(1227,.02)(1239,.012)(1252,.018)(1265,.025)(1277,.015)(1290,.01)(1302,.022)(1314,.03)(1327,.01)(1339,.02)(1352,.035)(1364,.015)(1377,.01)(1389,.025)(1400,.04)(1410,.005)(1420,.02)(1430,.035)(1440,0)(1450,.03)(1464,.04)(1472,0)(1480,.025)(1490,.045)(1498,.005)(1506,.03)(1514,.05)(1520,0)(1526,.02)(1534,.06)(1540,.01)(1548,.03)(1556,0)(1563,.04)(1570,.005)(1578,.02)(1583,0)};
\addplot[lg] coordinates {(1,.25)(4,.16)(8,.13)(13,.12)(20,.115)(28,.11)(38,.1)(48,.095)(56,.09)(63,.085)(72,.08)(82,.085)(94,.08)(106,.078)(118,.08)(130,.075)(144,.075)(156,.072)(169,.07)(181,.068)(194,.065)(206,.07)(219,.065)(231,.06)(244,.055)(256,.052)(269,.05)(281,.045)(293,.04)(306,.038)(318,.035)(331,.033)(343,.03)(356,.028)(368,.027)(381,.025)(393,.023)(406,.022)(418,.02)(430,.022)(443,.025)(455,.023)(468,.025)(480,.022)(493,.02)(505,.022)(518,.02)(530,.022)(542,.025)(555,.024)(567,.025)(580,.028)(592,.03)(605,.027)(617,.03)(630,.032)(642,.035)(654,.033)(667,.038)(679,.04)(692,.045)(704,.042)(717,.048)(729,.05)(741,.045)(746,.055)(754,.06)(766,.058)(779,.062)(791,.065)(803,.058)(816,.06)(829,.055)(841,.05)(853,.055)(866,.05)(878,.045)(891,.05)(903,.052)(916,.055)(928,.05)(940,.045)(953,.05)(965,.055)(978,.048)(991,.05)(1003,.045)(1015,.05)(1028,.042)(1040,.045)(1053,.04)(1065,.035)(1078,.038)(1090,.033)(1102,.035)(1115,.03)(1127,.032)(1140,.03)(1152,.028)(1165,.025)(1177,.028)(1189,.024)(1202,.022)(1214,.025)(1227,.02)(1240,.02)(1252,.022)(1265,.018)(1277,.025)(1290,.015)(1302,.02)(1314,.014)(1327,.012)(1339,.018)(1352,.02)(1364,.01)(1377,.02)(1389,.008)(1402,.012)(1414,.015)(1427,.005)(1439,.012)(1452,.008)(1464,.003)(1477,.01)(1489,.005)(1502,.002)(1514,.005)(1527,.01)(1539,0)(1552,.004)(1564,0)(1580,.003)(1600,0)(1614,.015)(1626,.02)(1632,0)(1650,0)(1662,.02)(1670,0)(1707,0)};
\addplot[rl] coordinates {(742,0)(742,0.25)};
\addplot[tri=cb] coordinates {(835,-0.0165)};
\addplot[tri=cg] coordinates {(962,-0.0165)};
\szon{742}
\plabel{-0.106}{(g)}
\end{axis}
% ---------------- (h)
\begin{axis}[rr, at={(372.5pt,26.5pt)}, xmax=1766, xtick={1,500,1000,1500,1600}, xticklabels={1,,,,1600}, xlabel={Time lag, $\tau$}]
\addplot[bb] coordinates {(1,.056)(1310,.06)(1510,.0641)(1590,.0682)(1630,.0722)(1660,.078)(1680,.0859)(1690,.0936)(1698,.1055)(1702,.1167)(1705,.1316)(1707,.15)(1708,.1655)(1709,.191)(1710,.25)(1710,0)(1696,0)(1690,.0064)(1680,.0141)(1660,.022)(1630,.0278)(1590,.0318)(1510,.0359)(1310,.04)(1,.044)} -- cycle;
\addplot[bg] coordinates {(1,.056)(1341,.06)(1541,.0641)(1621,.0682)(1661,.0722)(1691,.078)(1711,.0859)(1721,.0936)(1729,.1055)(1733,.1167)(1736,.1316)(1738,.15)(1739,.1655)(1740,.191)(1741,.25)(1741,0)(1727,0)(1721,.0064)(1711,.0141)(1691,.022)(1661,.0278)(1621,.0318)(1541,.0359)(1341,.04)(1,.044)} -- cycle;
\addplot[bo] coordinates {(1,.056)(1370,.06)(1570,.0641)(1650,.0682)(1690,.0722)(1720,.078)(1740,.0859)(1750,.0936)(1758,.1055)(1762,.1167)(1765,.1316)(1766,.1394)(1766,0)(1756,0)(1750,.0064)(1740,.0141)(1720,.022)(1690,.0278)(1650,.0318)(1570,.0359)(1370,.04)(1,.044)} -- cycle;
\addplot[lb] coordinates {(1,.25)(6,.22)(10,.21)(14,.2)(20,.18)(25,.165)(29,.16)(35,.14)(42,.12)(48,.11)(54,.1)(62,.095)(70,.09)(80,.085)(90,.083)(100,.08)(117,.08)(130,.078)(142,.075)(155,.073)(167,.075)(180,.072)(192,.07)(205,.068)(217,.07)(230,.073)(242,.075)(255,.072)(268,.07)(280,.068)(293,.065)(305,.062)(318,.06)(330,.065)(343,.06)(356,.058)(368,.055)(381,.05)(393,.048)(406,.05)(419,.05)(431,.045)(444,.043)(456,.047)(469,.05)(482,.055)(494,.052)(507,.05)(520,.055)(532,.058)(545,.06)(557,.058)(570,.055)(583,.052)(595,.05)(608,.045)(620,.042)(633,.038)(645,.035)(658,.032)(671,.03)(683,.028)(696,.03)(708,.028)(721,.027)(733,.025)(746,.028)(758,.03)(771,.03)(784,.035)(796,.033)(809,.03)(822,.03)(834,.025)(847,.022)(860,.02)(872,.018)(885,.015)(897,.015)(905,.008)(910,.003)(915,0)(1700,0)};
\addplot[lo] coordinates {(1,.25)(6,.2)(12,.16)(18,.15)(25,.13)(32,.11)(41,.1)(52,.095)(64,.09)(76,.092)(90,.088)(104,.085)(117,.088)(130,.09)(142,.086)(155,.082)(168,.08)(180,.08)(193,.083)(205,.085)(218,.082)(230,.078)(243,.075)(255,.075)(268,.078)(280,.08)(293,.082)(305,.085)(318,.083)(331,.085)(343,.08)(356,.075)(368,.07)(381,.065)(393,.062)(406,.06)(419,.055)(431,.05)(444,.048)(456,.046)(469,.045)(482,.045)(494,.048)(507,.05)(520,.05)(532,.046)(545,.043)(557,.04)(570,.04)(583,.037)(595,.035)(608,.035)(620,.033)(633,.03)(646,.03)(658,.027)(671,.025)(683,.025)(696,.027)(708,.028)(721,.03)(733,.026)(746,.022)(758,.018)(771,.012)(784,.01)(796,.006)(809,.005)(822,.008)(834,.012)(847,.015)(860,.01)(872,.005)(885,.002)(890,0)(1766,0)};
\addplot[lg] coordinates {(1,.25)(6,.2)(12,.16)(18,.13)(25,.115)(32,.105)(41,.1)(54,.098)(67,.095)(80,.092)(92,.09)(104,.09)(117,.087)(129,.085)(142,.085)(155,.088)(167,.093)(180,.095)(192,.09)(205,.085)(217,.08)(230,.082)(242,.085)(255,.087)(268,.088)(280,.09)(293,.09)(305,.085)(318,.08)(331,.077)(343,.075)(356,.07)(369,.065)(381,.062)(393,.058)(406,.055)(419,.053)(431,.05)(444,.05)(456,.047)(469,.045)(482,.048)(494,.05)(507,.05)(520,.05)(532,.046)(545,.043)(557,.04)(570,.038)(583,.037)(595,.035)(608,.033)(620,.03)(633,.03)(646,.028)(658,.027)(671,.025)(683,.023)(696,.02)(708,.02)(721,.018)(733,.015)(746,.012)(759,.01)(771,.015)(784,.02)(796,.022)(809,.025)(822,.027)(834,.025)(847,.02)(860,.015)(872,.01)(885,.008)(897,.007)(910,.005)(917,0)(1741,0)};
\addplot[rl] coordinates {(753,0)(753,0.25)};
\addplot[tri=cb] coordinates {(963,-0.0165)};
\addplot[tri=cg] coordinates {(992,-0.0165)};
\addplot[tri=co] coordinates {(1021,-0.0165)};
\szon{753}
\plabel{-0.074}{(h)}
\end{axis}
\end{tikzpicture}
\end{document}
